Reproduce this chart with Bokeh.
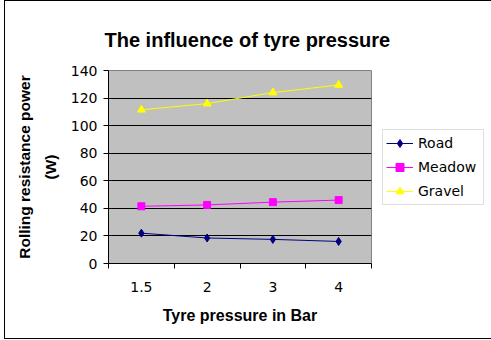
from bokeh.plotting import figure
from bokeh.models import FixedTicker, Legend, LegendItem, Range1d, ColumnDataSource
from bokeh.embed import file_html
from bokeh.resources import INLINE

categories = ["1.5", "2", "3", "4"]
road = [22, 18.5, 17.5, 16]
meadow = [41.5, 42.5, 44.5, 46]
gravel = [111.5, 116, 124, 129.5]
y_ticks = [0, 20, 40, 60, 80, 100, 120, 140]

xpos = [i + 0.5 for i in range(len(categories))]
src = ColumnDataSource(dict(x=xpos, road=road, meadow=meadow, gravel=gravel))

p = figure(frame_width=263, frame_height=193, output_backend="svg", toolbar_location=None,
           x_range=Range1d(0, len(categories)), y_range=Range1d(0, 140),
           min_border_left=103, min_border_right=114, min_border_top=69, min_border_bottom=75,
           title="The influence of tyre pressure")
p.styles = {"border": "1px solid black", "margin-left": "4px", "margin-top": "0px"}
p.border_fill_color = "white"
p.background_fill_color = "#C0C0C0"
p.outline_line_color = "#808080"

p.title.text_font = "Liberation Sans"
p.title.text_font_size = "20px"
p.title.text_font_style = "bold"
p.title.text_color = "black"
p.title.align = "left"
p.title.offset = -4
p.title.vertical_align = "top"
p.title.standoff = 36

# x axis
p.xaxis.ticker = FixedTicker(ticks=xpos, minor_ticks=list(range(len(categories) + 1)))
p.xaxis.major_label_overrides = {x: c for x, c in zip(xpos, categories)}
p.xaxis.major_tick_out = 0
p.xaxis.major_tick_in = 0
p.xaxis.minor_tick_out = 5
p.xaxis.minor_tick_in = 0
p.xaxis.minor_tick_line_color = "black"
p.xaxis.axis_line_color = "black"
p.xaxis.major_label_standoff = 13
p.xaxis.major_label_text_font = "DejaVu Sans"
p.xaxis.major_label_text_font_size = "14px"
p.xaxis.major_label_text_color = "black"
p.xaxis.axis_label = "Tyre pressure in Bar"
p.xaxis.axis_label_text_font = "Liberation Sans"
p.xaxis.axis_label_text_font_size = "16px"
p.xaxis.axis_label_text_font_style = "bold"
p.xaxis.axis_label_text_color = "black"
p.xaxis.axis_label_standoff = 12

# y axis
p.yaxis.ticker = FixedTicker(ticks=y_ticks)
p.yaxis.major_tick_out = 5
p.yaxis.major_tick_in = 0
p.yaxis.minor_tick_line_color = None
p.yaxis.axis_line_color = "black"
p.yaxis.major_label_text_font = "DejaVu Sans"
p.yaxis.major_label_text_font_size = "14px"
p.yaxis.major_label_text_color = "black"
p.yaxis.major_label_standoff = 6
p.yaxis.axis_label = "Rolling resistance power\n(W)"
p.yaxis.axis_label_text_font = "Liberation Sans"
p.yaxis.axis_label_text_font_size = "15.5px"
p.yaxis.axis_label_text_font_style = "bold"
p.yaxis.axis_label_text_color = "black"
p.yaxis.axis_label_text_line_height = 1.5
p.yaxis.axis_label_standoff = 9

p.xgrid.grid_line_color = None
p.ygrid.ticker = FixedTicker(ticks=y_ticks)
p.ygrid.grid_line_color = "black"
p.ygrid.grid_line_alpha = 1

l1 = p.line("x", "road", source=src, line_color="#000080", line_width=1)
m1 = p.scatter("x", "road", source=src, marker="diamond", size=8, fill_color="#000080", line_color="#000080")
l2 = p.line("x", "meadow", source=src, line_color="#FF00FF", line_width=1)
m2 = p.scatter("x", "meadow", source=src, marker="square", size=7, fill_color="#FF00FF", line_color="#FF00FF")
l3 = p.line("x", "gravel", source=src, line_color="#FFFF00", line_width=1)
m3 = p.scatter("x", "gravel", source=src, marker="triangle", size=8, fill_color="#FFFF00", line_color="#FFFF00")

legend = Legend(items=[
    LegendItem(label="Road", renderers=[l1, m1]),
    LegendItem(label="Meadow", renderers=[l2, m2]),
    LegendItem(label="Gravel", renderers=[l3, m3]),
], location="left")
legend.label_text_font = "DejaVu Sans"
legend.label_text_font_size = "14px"
legend.label_text_color = "black"
legend.border_line_color = "#C0C0C0"
legend.background_fill_alpha = 1
legend.glyph_width = 27
legend.glyph_height = 20
legend.label_height = 20
legend.label_width = 62
legend.label_standoff = 5
legend.spacing = 4
legend.padding = 3
legend.margin = 11
p.add_layout(legend, "right")

open("out.html", "w").write(file_html(p, INLINE))
